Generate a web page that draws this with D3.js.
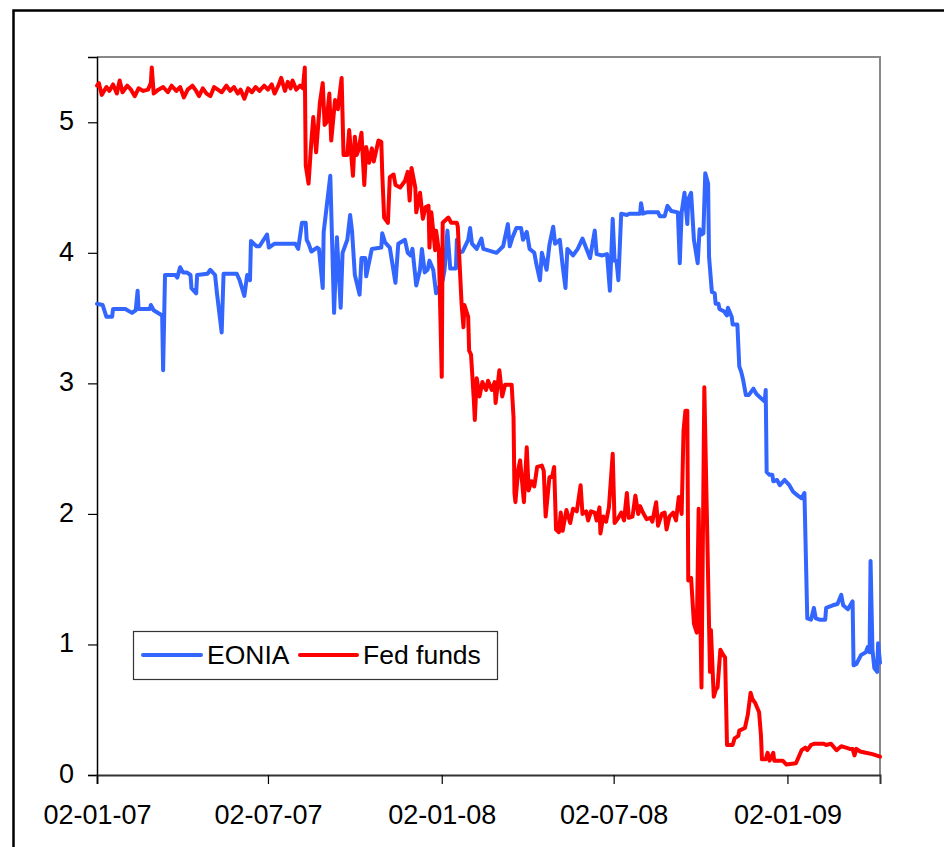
<!DOCTYPE html>
<html>
<head>
<meta charset="utf-8">
<script src="https://cdn.jsdelivr.net/npm/d3@7"></script>
<style>
  body { margin: 0; background: #fff; }
  svg { display: block; }
  text { font-family: Arial, "Liberation Sans", sans-serif; fill: #000; }
</style>
</head>
<body>
<svg id="chart" width="944" height="847"></svg>
<script>
// ---- data: [days since start date, rate %] ----
const startDate = "2007-01-02";
const endDate = "2009-04-10";
const xTickDates = ["2007-01-02", "2007-07-02", "2008-01-02", "2008-07-02", "2009-01-02"];
const yTicks = [0, 1, 2, 3, 4, 5];
const seriesNames = ["EONIA", "Fed funds"];

const eonia = [[0,3.61],[6,3.60],[10,3.51],[16,3.51],[17,3.57],[30,3.57],[37,3.54],[41,3.56],[43,3.71],[44,3.57],[56,3.57],[57,3.60],[60,3.56],[69,3.52],[70,3.10],[72,3.83],[83,3.83],[85,3.81],[88,3.89],[91,3.85],[95,3.85],[99,3.83],[100,3.73],[105,3.69],[106,3.83],[117,3.84],[120,3.87],[125,3.83],[127,3.69],[132,3.39],[134,3.84],[148,3.84],[151,3.79],[156,3.67],[159,3.83],[162,3.79],[163,4.09],[169,4.05],[172,4.05],[180,4.14],[182,4.04],[188,4.07],[210,4.07],[213,4.03],[217,4.23],[221,4.23],[222,4.10],[224,4.07],[227,4.01],[233,4.04],[235,4.03],[239,3.73],[240,4.16],[247,4.59],[251,3.54],[254,4.12],[258,3.58],[260,4.00],[265,4.10],[268,4.29],[270,4.17],[273,3.83],[278,3.68],[280,3.96],[284,3.96],[285,3.82],[291,4.03],[301,4.04],[302,4.15],[305,4.08],[310,4.04],[312,3.95],[316,3.77],[319,4.07],[326,4.10],[329,4.00],[332,3.98],[334,4.03],[338,3.75],[342,3.87],[344,4.03],[347,3.85],[350,3.87],[352,3.94],[356,3.87],[359,3.69],[366,3.79],[368,3.87],[371,4.17],[374,3.88],[380,3.88],[381,4.10],[382,4.00],[387,4.01],[393,4.10],[395,4.19],[397,4.07],[402,4.03],[407,4.11],[409,4.03],[423,4.00],[430,4.05],[435,4.22],[437,4.05],[440,4.12],[444,4.19],[449,4.19],[451,4.10],[455,4.16],[458,4.03],[463,4.00],[465,3.92],[469,3.79],[471,4.00],[476,3.87],[479,4.06],[483,4.20],[485,4.07],[490,4.10],[493,3.90],[496,3.73],[498,4.03],[504,3.98],[509,4.03],[514,4.11],[522,3.96],[527,4.17],[529,3.99],[535,3.98],[540,3.99],[543,3.71],[546,4.26],[548,3.94],[550,3.94],[552,3.79],[555,4.30],[561,4.29],[564,4.30],[575,4.30],[576,4.38],[578,4.30],[582,4.31],[594,4.31],[596,4.28],[601,4.28],[604,4.36],[608,4.32],[615,4.31],[617,3.92],[619,4.31],[622,4.46],[625,4.22],[626,4.41],[629,4.46],[632,4.10],[636,3.92],[638,4.18],[640,4.14],[642,4.15],[644,4.61],[647,4.53],[648,3.97],[651,3.70],[654,3.69],[655,3.61],[658,3.61],[659,3.57],[664,3.55],[667,3.52],[668,3.58],[672,3.51],[673,3.45],[678,3.45],[680,3.13],[682,3.09],[684,3.03],[687,2.91],[690,2.91],[695,2.96],[698,2.92],[701,2.90],[707,2.86],[708,2.95],[709,2.32],[712,2.30],[715,2.30],[716,2.25],[720,2.26],[723,2.22],[728,2.26],[733,2.22],[737,2.17],[742,2.14],[746,2.12],[749,2.16],[752,1.20],[756,1.19],[759,1.28],[761,1.20],[765,1.19],[771,1.19],[772,1.28],[779,1.30],[784,1.31],[788,1.38],[790,1.30],[795,1.27],[800,1.33],[801,0.84],[804,0.85],[809,0.92],[814,0.94],[816,0.98],[818,0.94],[819,1.64],[821,0.96],[823,0.82],[826,0.79],[827,1.01],[829,0.86]];

const fedFunds = [[0,5.28],[2,5.30],[5,5.21],[10,5.27],[13,5.24],[17,5.29],[21,5.22],[24,5.32],[27,5.23],[32,5.28],[36,5.25],[40,5.20],[44,5.26],[49,5.24],[54,5.25],[57,5.30],[58,5.42],[60,5.22],[65,5.25],[70,5.27],[75,5.23],[79,5.28],[84,5.24],[88,5.27],[92,5.19],[96,5.25],[101,5.28],[105,5.24],[108,5.20],[112,5.26],[116,5.22],[120,5.20],[124,5.27],[128,5.25],[132,5.23],[137,5.28],[141,5.24],[145,5.27],[149,5.22],[152,5.25],[156,5.18],[160,5.26],[164,5.23],[168,5.27],[172,5.24],[177,5.28],[181,5.25],[185,5.29],[188,5.22],[192,5.28],[195,5.34],[199,5.24],[202,5.31],[205,5.26],[207,5.32],[211,5.25],[215,5.28],[218,5.26],[220,5.42],[221,4.67],[224,4.53],[227,4.86],[229,5.04],[232,4.77],[236,5.15],[239,5.30],[241,4.98],[243,5.00],[246,5.22],[248,4.86],[252,5.17],[255,5.10],[259,5.34],[261,4.75],[265,4.75],[267,4.94],[271,4.59],[273,4.89],[275,4.75],[277,4.79],[280,4.92],[283,4.52],[285,4.81],[288,4.69],[291,4.80],[293,4.70],[298,4.86],[301,4.85],[302,4.61],[304,4.27],[308,4.23],[310,4.58],[314,4.60],[316,4.52],[321,4.50],[326,4.55],[329,4.62],[331,4.40],[333,4.65],[337,4.50],[338,4.31],[342,4.46],[345,4.26],[348,4.35],[351,4.36],[352,4.04],[354,4.31],[358,4.02],[359,4.17],[362,4.01],[365,3.05],[366,4.23],[372,4.27],[375,4.23],[381,4.23],[382,4.20],[386,3.61],[388,3.43],[389,3.60],[393,3.51],[394,3.25],[396,3.22],[399,2.87],[400,2.72],[402,3.04],[405,2.90],[408,3.01],[412,2.95],[414,3.02],[418,2.95],[421,3.01],[422,2.85],[426,3.10],[429,2.90],[432,2.99],[439,2.99],[441,2.74],[442,2.16],[443,2.09],[446,2.34],[448,2.41],[452,2.09],[455,2.51],[457,2.18],[460,2.25],[463,2.21],[466,2.36],[471,2.37],[473,2.33],[475,1.98],[479,2.28],[482,2.29],[484,2.36],[486,1.88],[489,1.86],[491,2.01],[493,1.87],[497,2.03],[501,1.93],[504,2.04],[508,2.02],[512,2.22],[514,2.00],[518,2.02],[520,1.95],[523,2.02],[527,2.01],[529,1.95],[532,2.05],[533,1.85],[536,1.98],[539,1.94],[542,2.05],[546,2.46],[548,1.93],[552,1.97],[555,2.01],[558,1.95],[561,2.16],[563,1.97],[567,1.98],[570,2.14],[573,2.00],[575,2.06],[578,2.01],[582,1.96],[586,1.97],[588,1.94],[592,2.09],[594,1.91],[598,2.00],[601,2.01],[603,1.88],[606,1.98],[610,2.01],[613,1.95],[616,2.13],[619,2.00],[621,2.64],[623,2.79],[625,2.79],[626,1.49],[629,1.51],[632,1.16],[635,1.09],[637,2.04],[640,0.67],[643,2.97],[649,0.79],[650,1.11],[653,0.60],[655,0.65],[657,0.67],[660,0.96],[663,0.92],[665,0.90],[667,0.23],[673,0.23],[675,0.28],[679,0.30],[680,0.34],[686,0.36],[689,0.46],[692,0.63],[694,0.58],[697,0.55],[701,0.48],[703,0.30],[704,0.12],[708,0.12],[710,0.17],[712,0.11],[716,0.17],[717,0.11],[726,0.11],[730,0.08],[740,0.09],[743,0.14],[746,0.19],[750,0.21],[752,0.19],[756,0.23],[760,0.24],[764,0.24],[769,0.24],[772,0.23],[777,0.24],[783,0.19],[788,0.22],[793,0.21],[797,0.20],[800,0.20],[802,0.15],[804,0.20],[808,0.18],[814,0.17],[821,0.16],[829,0.14]];

const colors = ["#3366FF", "#FF0000"];

// ---- layout ----
const svg = d3.select("#chart");
const plot = { left: 97, top: 57, right: 880, bottom: 775 };

const parse = d3.utcParse("%Y-%m-%d");
const t0 = parse(startDate);
const toDate = d => d3.utcDay.offset(t0, d);

const x = d3.scaleUtc().domain([t0, parse(endDate)]).range([plot.left, plot.right]);
const y = d3.scaleLinear().domain([0, 5.5]).range([plot.bottom, plot.top]);

// outer frame
svg.append("rect")
  .attr("x", 13.5).attr("y", 10.5).attr("width", 1000).attr("height", 1000)
  .attr("fill", "none").attr("stroke", "#000").attr("stroke-width", 2.5);

// plot frame (top / right grey)
svg.append("path")
  .attr("d", `M${plot.left},${plot.top}H${plot.right}V${plot.bottom}`)
  .attr("fill", "none").attr("stroke", "#888").attr("stroke-width", 2);

// y axis
const yAxis = svg.append("g").attr("transform", `translate(${plot.left},0)`)
  .call(d3.axisLeft(y).tickValues(yTicks).tickFormat(d3.format("d")).tickSizeOuter(0).tickSize(9).tickPadding(14));
yAxis.select(".domain").attr("stroke", "#000").attr("stroke-width", 1.5);
yAxis.selectAll(".tick line").attr("stroke", "#000").attr("stroke-width", 1.2);
yAxis.selectAll(".tick text").attr("font-size", 27).attr("font-family", "Arial, 'Liberation Sans', sans-serif").attr("dy", "0.27em");

// x axis
const xAxis = svg.append("g").attr("transform", `translate(0,${plot.bottom})`)
  .call(d3.axisBottom(x).tickValues(xTickDates.map(parse)).tickFormat(d3.utcFormat("%d-%m-%y")).tickSizeOuter(0).tickSize(9).tickPadding(21));
xAxis.select(".domain").attr("stroke", "#333").attr("stroke-width", 2);
xAxis.selectAll(".tick line").attr("stroke", "#000").attr("stroke-width", 1.2);
xAxis.selectAll(".tick text").attr("font-size", 27).attr("font-family", "Arial, 'Liberation Sans', sans-serif");

// lines
const line = d3.line().x(d => x(toDate(d[0]))).y(d => y(d[1]));
[eonia, fedFunds].forEach((s, i) => {
  svg.append("path").datum(s)
    .attr("d", line)
    .attr("fill", "none")
    .attr("stroke", colors[i])
    .attr("stroke-width", 4)
    .attr("stroke-linejoin", "round")
    .attr("stroke-linecap", "round");
});

// legend
const lg = svg.append("g");
lg.append("rect").attr("x", 133.5).attr("y", 631.5).attr("width", 364).attr("height", 48)
  .attr("fill", "#fff").attr("stroke", "#333").attr("stroke-width", 1.2);
const legendItems = [
  { x1: 143, x2: 201, tx: 207 },
  { x1: 300, x2: 357, tx: 363 }
];
legendItems.forEach((it, i) => {
  lg.append("line").attr("x1", it.x1).attr("x2", it.x2).attr("y1", 655).attr("y2", 655)
    .attr("stroke", colors[i]).attr("stroke-width", 4).attr("stroke-linecap", "round");
  lg.append("text").attr("x", it.tx).attr("y", 664).attr("font-size", 26.5).text(seriesNames[i]);
});
</script>
</body>
</html>
